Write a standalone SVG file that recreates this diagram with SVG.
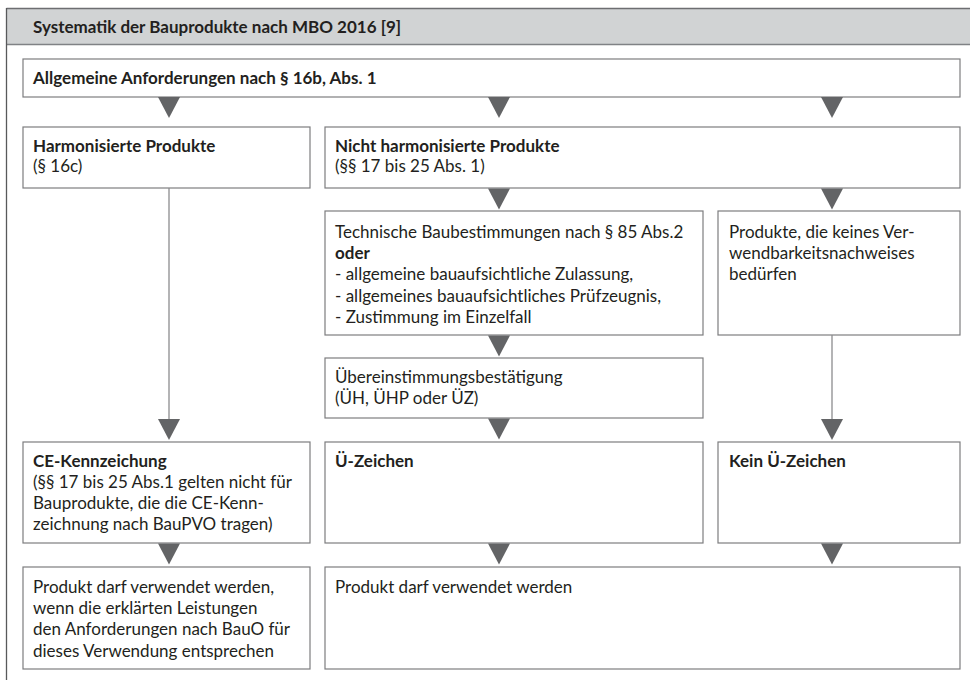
<svg xmlns="http://www.w3.org/2000/svg" width="970" height="680" viewBox="0 0 970 680">
<defs>
<style>
text{font-family:Lato,"Open Sans","Liberation Sans",sans-serif;font-size:17px;fill:#231f20}
.b{font-weight:bold}
.box{fill:#fff;stroke:#7d7d7f;stroke-width:1.2}
.tri{fill:#636466}
.ln{stroke:#8c8c8e;stroke-width:1.3;fill:none}
</style>
<polygon id="tri" class="tri" points="-11,0 11,0 0,21"/>
</defs>
<rect x="0" y="0" width="970" height="680" fill="#fff"/>
<g id="frame">
<rect x="6.5" y="8.5" width="970" height="36" fill="#d1d3d4" stroke="none"/>
<line x1="6.5" y1="8.5" x2="970" y2="8.5" stroke="#6d6e71" stroke-width="1.3"/>
<line x1="6.5" y1="44.5" x2="970" y2="44.5" stroke="#808285" stroke-width="1.3"/>
<line x1="6.5" y1="8" x2="6.5" y2="680" stroke="#58595b" stroke-width="1.3"/>
<text class="b" x="33" y="33">Systematik der Bauprodukte nach MBO 2016 [9]</text>
</g>
<g id="n-allg">
<rect class="box" x="23" y="59" width="937" height="38"/>
<text class="b" x="33" y="84">Allgemeine Anforderungen nach § 16b, Abs. 1</text>
</g>
<g id="n-harm">
<rect class="box" x="23" y="127" width="287" height="61"/>
<text class="b" x="33" y="152">Harmonisierte Produkte</text>
<text x="33" y="172">(§ 16c)</text>
</g>
<g id="n-nichtharm">
<rect class="box" x="325" y="127" width="635" height="61"/>
<text class="b" x="335" y="152">Nicht harmonisierte Produkte</text>
<text x="335" y="172">(§§ 17 bis 25 Abs. 1)</text>
</g>
<g id="n-techn">
<rect class="box" x="325" y="211" width="378" height="124"/>
<text x="335" y="238">Technische Baubestimmungen nach § 85 Abs.2</text>
<text class="b" x="335" y="259">oder</text>
<text x="335" y="280">- allgemeine bauaufsichtliche Zulassung,</text>
<text x="335" y="301.5">- allgemeines bauaufsichtliches Prüfzeugnis,</text>
<text x="335" y="323">- Zustimmung im Einzelfall</text>
</g>
<g id="n-keines">
<rect class="box" x="718" y="211" width="242" height="124"/>
<text x="729" y="238">Produkte, die keines Ver-</text>
<text x="729" y="259">wendbarkeitsnachweises</text>
<text x="729" y="280">bedürfen</text>
</g>
<g id="n-uebereinst">
<rect class="box" x="325" y="358" width="378" height="60"/>
<text x="335" y="383">Übereinstimmungsbestätigung</text>
<text x="335" y="404">(ÜH, ÜHP oder ÜZ)</text>
</g>
<g id="n-ce">
<rect class="box" x="23" y="442" width="287" height="101"/>
<text class="b" x="33" y="466.5">CE-Kennzeichung</text>
<text x="33" y="488">(§§ 17 bis 25 Abs.1 gelten nicht für</text>
<text x="33" y="509">Bauprodukte, die die CE-Kenn-</text>
<text x="33" y="530">zeichnung nach BauPVO tragen)</text>
</g>
<g id="n-uez">
<rect class="box" x="325" y="442" width="378" height="101"/>
<text class="b" x="335" y="466.5">Ü-Zeichen</text>
</g>
<g id="n-keinuez">
<rect class="box" x="718" y="442" width="242" height="101"/>
<text class="b" x="729" y="466.5">Kein Ü-Zeichen</text>
</g>
<g id="n-produkt-l">
<rect class="box" x="23" y="567" width="287" height="102"/>
<text x="33" y="593">Produkt darf verwendet werden,</text>
<text x="33" y="614">wenn die erklärten Leistungen</text>
<text x="33" y="635">den Anforderungen nach BauO für</text>
<text x="33" y="656.5">dieses Verwendung entsprechen</text>
</g>
<g id="n-produkt-r">
<rect class="box" x="325" y="567" width="635" height="102"/>
<text x="335" y="593">Produkt darf verwendet werden</text>
</g>
<g id="connectors">
<line class="ln" x1="169" y1="188" x2="169" y2="420"/>
<line class="ln" x1="832" y1="335" x2="832" y2="420"/>
<use href="#tri" x="169" y="97"/>
<use href="#tri" x="499" y="97"/>
<use href="#tri" x="832" y="97"/>
<use href="#tri" x="499" y="188.5"/>
<use href="#tri" x="832" y="188.5"/>
<use href="#tri" x="499" y="335.5"/>
<use href="#tri" x="169" y="419"/>
<use href="#tri" x="499" y="418.5"/>
<use href="#tri" x="832" y="419"/>
<use href="#tri" x="169" y="543.5"/>
<use href="#tri" x="499" y="543.5"/>
<use href="#tri" x="832" y="543.5"/>
</g>
</svg>
